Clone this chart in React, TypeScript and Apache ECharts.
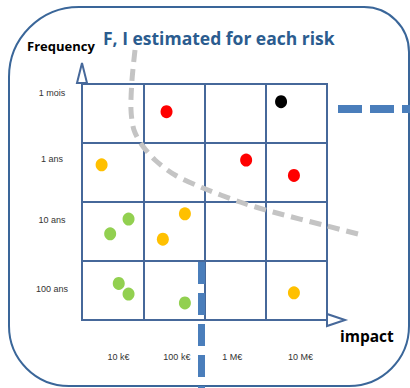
import React, { useEffect, useRef } from "react";
import * as echarts from "echarts";

const impactLabels = ["10 k€", "100 k€", "1 M€", "10 M€"];
const frequencyLabels = ["100 ans", "10 ans", "1 ans", "1 mois"]; // bottom to top

const redRisks = [
  [1.38, 3.53],
  [2.68, 2.71],
  [3.46, 2.45],
];
const blackRisks = [[3.25, 3.7]];
const orangeRisks = [
  [0.32, 2.63],
  [1.68, 1.8],
  [1.32, 1.37],
  [3.46, 0.46],
];
const greenRisks = [
  [0.76, 1.71],
  [0.46, 1.46],
  [0.6, 0.62],
  [0.76, 0.44],
  [1.68, 0.29],
];

const BLUE = "#46689A";
const yPad = [
  [0, 0, 4, 0],
  [0, 0, 24, 0],
  [0, 0, 28, 0],
  [0, 0, 42, 0],
];
const xPad = [
  [0, 0, 0, 12],
  [0, 0, 0, 6],
  [0, 6, 0, 0],
  [0, 0, 0, 8],
];

export default function App() {
  const ref = useRef<HTMLDivElement>(null);
  useEffect(() => {
    if (!ref.current) return;
    const chart = echarts.init(ref.current, null, { renderer: "svg" });
    const labelFont = { fontFamily: "Liberation Sans", fontSize: 9, color: "#333" };
    const yRich: any = {};
    yPad.forEach((p, i) => (yRich["r" + i] = { ...labelFont, padding: p }));
    const xRich: any = {};
    xPad.forEach((p, i) => (xRich["c" + i] = { ...labelFont, padding: p }));
    const scatter = (data: number[][], color: string) => ({
      type: "scatter",
      xAxisIndex: 0,
      yAxisIndex: 0,
      data,
      symbolSize: [12, 13],
      itemStyle: { color, opacity: 1 },
      z: 5,
    });
    chart.setOption({
      animation: false,
      grid: {
        left: 82,
        top: 84,
        width: 245,
        height: 236,
        show: true,
        borderColor: BLUE,
        borderWidth: 2,
        backgroundColor: "transparent",
      },
      xAxis: [
        {
          type: "value",
          min: 0,
          max: 4,
          interval: 1,
          axisLine: { show: false },
          axisTick: { show: false },
          axisLabel: { show: false },
          splitLine: { show: true, lineStyle: { color: BLUE, width: 2 } },
        },
        {
          type: "category",
          position: "bottom",
          data: impactLabels,
          boundaryGap: true,
          axisLine: { show: false },
          axisTick: { show: false },
          splitLine: { show: false },
          axisLabel: {
            margin: 32,
            ...labelFont,
            formatter: (v: string, i: number) => `{c${i}|${v}}`,
            rich: xRich,
          },
        },
      ],
      yAxis: [
        {
          type: "value",
          min: 0,
          max: 4,
          interval: 1,
          axisLine: { show: false },
          axisTick: { show: false },
          axisLabel: { show: false },
          splitLine: { show: true, lineStyle: { color: BLUE, width: 2 } },
        },
        {
          type: "category",
          position: "left",
          data: frequencyLabels,
          boundaryGap: true,
          axisLine: { show: false },
          axisTick: { show: false },
          splitLine: { show: false },
          axisLabel: {
            margin: 30,
            align: "center",
            ...labelFont,
            formatter: (v: string, i: number) => `{r${i}|${v}}`,
            rich: yRich,
          },
        },
      ],
      series: [
        scatter(redRisks, "#FF0000"),
        scatter(blackRisks, "#000000"),
        scatter(orangeRisks, "#FFC000"),
        scatter(greenRisks, "#92D050"),
      ],
      graphic: [
        {
          type: "rect",
          z: 0,
          shape: { x: 9, y: 7, width: 400, height: 379, r: [70, 45, 60, 60] },
          style: { fill: "none", stroke: "#3A6699", lineWidth: 2 },
        },
        {
          type: "polygon",
          z: 20,
          shape: { points: [[82, 63], [77, 83], [87, 83]] },
          style: { fill: "#fff", stroke: BLUE, lineWidth: 2 },
        },
        {
          type: "polygon",
          z: 20,
          shape: { points: [[345, 320], [327, 314], [327, 326]] },
          style: { fill: "#fff", stroke: BLUE, lineWidth: 2 },
        },
        {
          type: "polyline",
          z: 10,
          shape: {
            points: [
              [135, 50],
              [132, 80],
              [131, 110],
              [134, 130],
              [142, 145],
              [155, 160],
              [175, 175],
              [203, 188],
              [240, 202],
              [273, 212],
              [327, 226],
              [358, 234],
            ],
            smooth: 0.3,
          },
          style: { fill: "none", stroke: "#C4C4C4", lineWidth: 5, lineDash: [12, 7] },
        },
        {
          type: "line",
          z: 11,
          shape: { x1: 201.5, y1: 262, x2: 201.5, y2: 400 },
          style: { stroke: "#4A7EBB", lineWidth: 7, lineDash: [22, 9] },
        },
        {
          type: "line",
          z: 11,
          shape: { x1: 338, y1: 109, x2: 430, y2: 109 },
          style: { stroke: "#4A7EBB", lineWidth: 8, lineDash: [24, 8] },
        },
        {
          type: "text",
          z: 20,
          x: 103,
          y: 38,
          style: {
            text: "F, I estimated for each risk",
            fill: "#2B5C8F",
            font: "bold 17.5px 'Open Sans'",
            verticalAlign: "middle",
          },
        },
        {
          type: "text",
          z: 20,
          x: 27,
          y: 46,
          style: {
            text: "Frequency",
            fill: "#000",
            font: "bold 13px 'Open Sans'",
            verticalAlign: "middle",
          },
        },
        {
          type: "text",
          z: 20,
          x: 340,
          y: 336,
          style: {
            text: "impact",
            fill: "#000",
            font: "bold 15.5px 'Open Sans'",
            verticalAlign: "middle",
          },
        },
      ],
    });
    return () => chart.dispose();
  }, []);
  return (
    <div
      ref={ref}
      style={{ position: "fixed", left: 0, top: 0, width: 410, height: 388, background: "#fff" }}
    />
  );
}
